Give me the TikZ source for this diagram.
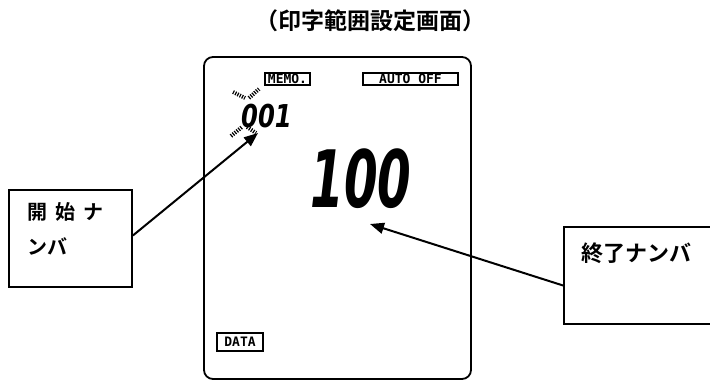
\documentclass[tikz,border=0pt]{standalone}
\usepackage{fontspec}
\newfontfamily\jpfont{Noto Sans CJK JP}[BoldFont={Noto Sans CJK JP Bold}]
\newfontfamily\jpwide{Noto Sans CJK JP}[BoldFont={Noto Sans CJK JP Bold},WordSpace=1.8]
\newfontfamily\lcdfont{DejaVu Sans}
\newfontfamily\tagfont{DejaVu Sans Mono}
\usetikzlibrary{arrows.meta,calc}
\tikzset{
  >={Triangle[length=14pt,width=11pt]},
  lcdframe/.style={draw,line width=1.8pt,rounded corners=9pt},
  tag/.style={draw,line width=1.6pt,inner sep=0pt,font=\tagfont\bfseries\fontsize{13}{13}\selectfont},
  tbox/.style={draw,line width=1.8pt,inner sep=0pt},
  jlab/.style={font=\jpwide\bfseries\fontsize{20}{35}\selectfont,align=left,inner sep=0pt},
  digits/.style={font=\lcdfont\bfseries\itshape,inner sep=0pt},
  arr/.style={->,line width=2pt},
  blink/.style={line width=4pt,dash pattern=on 1.2pt off 1.3pt},
}
\begin{document}
\begin{tikzpicture}[x=1pt,y=-1pt]
\useasboundingbox (0,0) rectangle (710,381);
% title
\node[font=\jpfont\bfseries\fontsize{23}{23}\selectfont] (title) at (370,21) {（印字範囲設定画面）};
% lcd panel
\draw[lcdframe] (204,57) rectangle (471,379);
\node[tag,minimum width=45pt,minimum height=12pt] (memo) at (287.5,79) {MEMO.};
\node[tag,minimum width=95pt,minimum height=12pt] (auto) at (410.5,79) {AUTO OFF};
\node[tag,minimum width=46pt,minimum height=18pt] (data) at (240,342) {DATA};
\node[digits] (num) at (266.5,116) {\scalebox{1.35}[1.75]{\fontsize{18}{18}\selectfont 001}};
\node[digits] (big) at (361,179) {\scalebox{1.1}[1.8]{\fontsize{44}{44}\selectfont 100}};
% blinking marks round the first digit
\draw[blink] (233,92) -- (245,98);
\draw[blink] (249,98) -- (259,89);
\draw[blink] (231,136) -- (242,127);
\draw[blink] (247,127) -- (256,133);
% call-out boxes
\node[tbox,minimum width=123pt,minimum height=97pt] (startbox) at (70.5,238.5) {};
\node[jlab,anchor=north west] (starttxt) at (27,202) {開 始 ナ\\ンバ};
\node[tbox,minimum width=150pt,minimum height=97pt] (endbox) at (639,275.5) {};
\node[jlab,font=\jpfont\bfseries\fontsize{22}{22}\selectfont,anchor=west] (endtxt) at (581,253) {終了ナンバ};
\coordinate (tipA) at (258,133);
\coordinate (tipB) at (370,224);
\draw[arr] ($(startbox.east)+(0,-3)$) -- (tipA);
\draw[arr] ($(endbox.west)+(0,10)$) -- (tipB);
\end{tikzpicture}
\end{document}
